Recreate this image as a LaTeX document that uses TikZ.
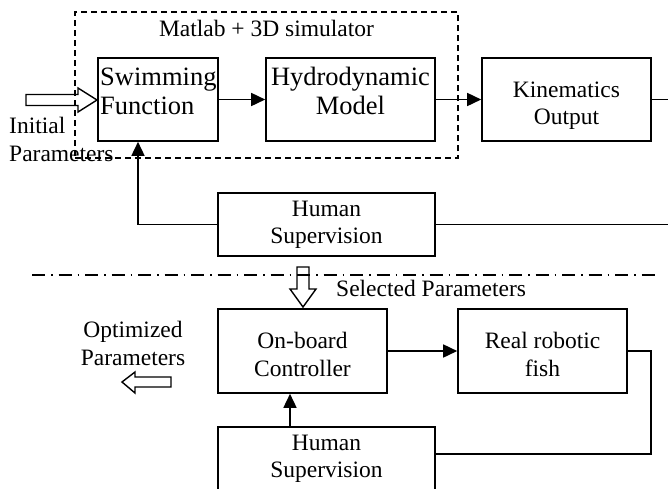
\documentclass[tikz,border=0pt]{standalone}
\usepackage{fontspec}
\setmainfont{Liberation Serif}
\usetikzlibrary{arrows.meta,calc}
\begin{document}
\begin{tikzpicture}[x=1pt,y=-1pt,
  box/.style={draw, line width=1.6pt, inner sep=0pt},
  simbox/.style={draw, line width=1.4pt, dash pattern=on 6pt off 4pt, inner sep=0pt},
  lbl/.style={inner sep=0pt, font=\fontsize{23.5}{27}\selectfont},
  biglbl/.style={inner sep=0pt, font=\fontsize{26.5}{29}\selectfont},
  conn/.style={line width=1.6pt},
  arr/.style={conn, -{Triangle[length=14pt,width=13pt]}},
  fatarrow/.style={draw, line width=1.4pt, line join=miter},
  dashdot/.style={line width=1.4pt, dash pattern=on 13pt off 6pt on 1.5pt off 6pt}]
\useasboundingbox (0,0) rectangle (668,488);

% simulator frame
\node[simbox, minimum width=383pt, minimum height=146pt] (sim) at (266.5,85) {};
\node[lbl, anchor=base] (simlbl) at (266.5,36) {Matlab + 3D simulator};

% boxes
\node[box, minimum width=120pt, minimum height=83pt] (swim)  at (158,99.5) {};
\node[box, minimum width=169pt, minimum height=83pt] (hydro) at (350.5,99.5) {};
\node[box, minimum width=169pt, minimum height=83pt] (kin)   at (566.5,99.5) {};
\node[box, minimum width=217pt, minimum height=63pt] (hsa)   at (326.5,224.5) {};
\node[box, minimum width=169pt, minimum height=84pt] (ctrl)  at (302.5,351) {};
\node[box, minimum width=169pt, minimum height=84pt] (fish)  at (542.5,351) {};
\node[box, minimum width=217pt, minimum height=63pt] (hsb)   at (326.5,458.5) {};

% labels
\node[biglbl, anchor=base west] (t1a) at (100,85)  {Swimming};
\node[biglbl, anchor=base west] (t1b) at (100,114) {Function};
\node[biglbl, anchor=base] (t2a) at (350.5,85)  {Hydrodynamic};
\node[biglbl, anchor=base] (t2b) at (350.5,114) {Model};
\node[lbl, anchor=base] (t3a) at (566.5,97)  {Kinematics};
\node[lbl, anchor=base] (t3b) at (566.5,124) {Output};
\node[lbl, anchor=base] (t4a) at (326.5,216) {Human};
\node[lbl, anchor=base] (t4b) at (326.5,243) {Supervision};
\node[lbl, anchor=base] (t5a) at (302.5,348) {On-board};
\node[lbl, anchor=base] (t5b) at (302.5,376) {Controller};
\node[lbl, anchor=base] (t6a) at (542.5,348) {Real robotic};
\node[lbl, anchor=base] (t6b) at (542.5,376) {fish};
\node[lbl, anchor=base] (t7a) at (326.5,450) {Human};
\node[lbl, anchor=base] (t7b) at (326.5,477) {Supervision};
\node[lbl, anchor=base west] (ia) at (9,133) {Initial};
\node[lbl, anchor=base west] (ib) at (9,161) {Parameters};
\node[lbl, anchor=base] (oa) at (133,337) {Optimized};
\node[lbl, anchor=base] (ob) at (133,365) {Parameters};
\node[lbl, anchor=base west] (sp) at (336,296) {Selected Parameters};

% helper coordinates
\coordinate (rtop) at (670,99.5);
\coordinate (rmid) at (670,224.5);
\coordinate (fb) at (138,0);
\coordinate (cb) at (290,0);
\coordinate (loopc) at (651,454);
\coordinate (dl) at (32,275);
\coordinate (dr) at (655,275);

% connectors
\draw[arr] (swim.east) -- (hydro.west);
\draw[arr] (hydro.east) -- (kin.west);
\draw[conn] (kin.east) -- (rtop);
\draw[conn] (hsa.east) -- (rmid);
\draw[arr] (hsa.west) -| (swim.south -| fb);
\draw[arr] (ctrl.east) -- (fish.west);
\draw[conn] (fish.east) -| (loopc) -- (loopc -| hsb.east);
\draw[arr] (hsb.north -| cb) -- (ctrl.south -| cb);

% separator
\draw[dashdot] (dl) -- (dr);

% hollow arrows
\draw[fatarrow] (26,94.5) -- (78,94.5) -- (78,88) -- (97,100) -- (78,112) -- (78,105.5) -- (26,105.5) -- cycle;
\draw[fatarrow] (297,267) -- (309,267) -- (309,289) -- (316,289) -- (303,307) -- (290,289) -- (297,289) -- cycle;
\draw[fatarrow] (171,377) -- (135,377) -- (135,372) -- (122,382) -- (135,393) -- (135,387) -- (171,387) -- cycle;
\end{tikzpicture}
\end{document}
